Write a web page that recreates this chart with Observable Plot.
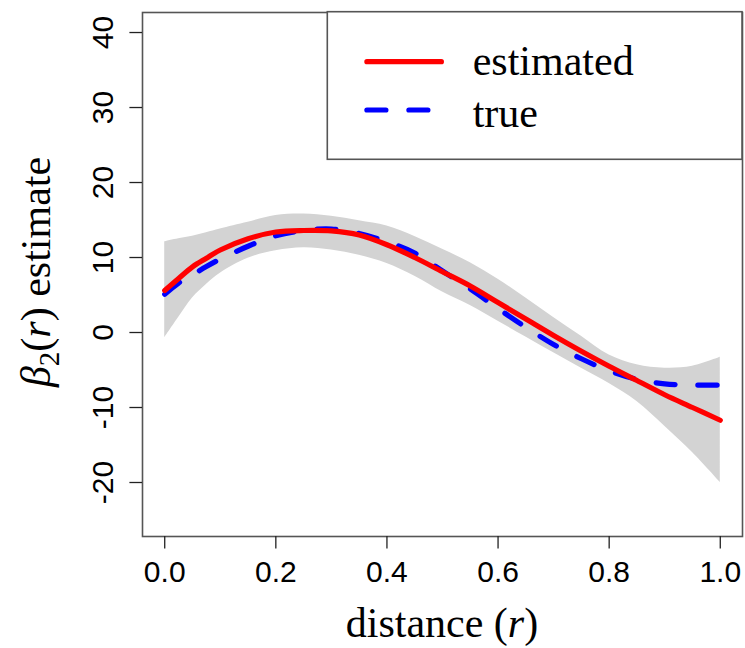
<!DOCTYPE html>
<html>
<head>
<meta charset="utf-8">
<script src="https://cdn.jsdelivr.net/npm/d3@7"></script>
<script src="https://cdn.jsdelivr.net/npm/@observablehq/plot@0.6"></script>
<style>
  html, body { margin: 0; padding: 0; background: #fff; }
  #chart svg { display: block; }
</style>
</head>
<body>
<div id="chart"></div>
<script>
// distance grid (r)
const r = [0, 0.025, 0.05, 0.075, 0.1, 0.15, 0.2, 0.25, 0.3, 0.35, 0.4, 0.45, 0.5,
           0.55, 0.6, 0.65, 0.7, 0.75, 0.8, 0.85, 0.9, 0.95, 1.0];
// estimated beta_2(r)
const estimated = [5.6, 7.2, 8.75, 9.9, 11.0, 12.5, 13.4, 13.6, 13.55, 13.0, 11.7, 10.0, 8.1,
                   6.2, 4.0, 1.8, -0.4, -2.5, -4.5, -6.4, -8.3, -10.0, -11.7];
// true beta_2(r)
const truth = [5.1, 6.6, 7.7, 8.8, 9.8, 11.5, 12.9, 13.6, 13.8, 13.2, 12.1, 10.6, 8.2,
               5.8, 3.2, 0.7, -1.6, -3.5, -5.1, -6.25, -6.85, -7.0, -7.0];
// pointwise band
const upper = [12.1, 12.5, 12.85, 13.3, 13.8, 14.7, 15.6, 15.8, 15.5, 14.9, 14.2, 12.8, 11.1,
               9.3, 7.1, 4.6, 2.0, -0.5, -3.0, -4.3, -4.75, -4.5, -3.3];
const lower = [-0.7, 2.0, 4.6, 6.4, 7.9, 9.9, 10.9, 11.3, 11.0, 10.3, 9.2, 7.5, 5.4,
               3.6, 1.5, -0.6, -2.7, -4.75, -6.8, -9.2, -12.5, -16.0, -20.0];

const xTicks = [0, 0.2, 0.4, 0.6, 0.8, 1.0];
const yTicks = [-20, -10, 0, 10, 20, 30, 40];
const seriesNames = ["estimated", "true"];

const rows = r.map((d, i) => ({r: d, est: estimated[i], tru: truth[i], lo: lower[i], hi: upper[i]}));

const sans = "'Liberation Sans', Arial, Helvetica, sans-serif";
const serif = "'Liberation Serif', 'Times New Roman', Times, serif";

const plot = Plot.plot({
  width: 745,
  height: 648,
  marginLeft: 142,
  marginRight: 3,
  marginTop: 12,
  marginBottom: 112,
  style: {background: "#fff"},
  x: {domain: [-0.04, 1.04]},
  y: {domain: [-27.2, 42.67]},
  marks: [
    Plot.areaY(rows, {x: "r", y1: "lo", y2: "hi", fill: "#d3d3d3", curve: "catmull-rom"}),
    Plot.line(rows, {x: "r", y: "tru", stroke: "#0000ff", strokeWidth: 5.2, curve: "catmull-rom",
      strokeDasharray: "19,23", strokeLinecap: "round", strokeLinejoin: "round"}),
    Plot.line(rows, {x: "r", y: "est", stroke: "#ff0000", strokeWidth: 5.2, curve: "catmull-rom",
      strokeLinecap: "round", strokeLinejoin: "round"}),
    Plot.frame({stroke: "#555", strokeWidth: 1.6}),
    Plot.axisX({ticks: xTicks, tickFormat: d => d.toFixed(1), tickSize: 12.6, tickPadding: 12,
      fontSize: 30, fontFamily: sans, label: null, stroke: "#222", strokeWidth: 1.3, fill: "#000"}),
    Plot.axisY({ticks: yTicks, tickFormat: d => String(d), tickSize: 12.6, tickPadding: 17.4,
      tickRotate: -90, fontSize: 30, fontFamily: sans, label: null, stroke: "#222", strokeWidth: 1.3, fill: "#000"})
  ]
});

document.getElementById("chart").appendChild(plot);

const svg = d3.select(plot);
// x axis title
const xt = svg.append("text")
  .attr("x", 442).attr("y", 636.7)
  .attr("text-anchor", "middle")
  .style("font-family", serif).style("font-size", "42px").attr("fill", "#000");
xt.append("tspan").text("distance (");
xt.append("tspan").style("font-style", "italic").text("r");
xt.append("tspan").text(")");

// y axis title
const yt = svg.append("text")
  .attr("transform", "translate(50,272) rotate(-90)")
  .attr("text-anchor", "middle")
  .style("font-family", serif).style("font-size", "42px").attr("fill", "#000");
yt.append("tspan").style("font-style", "italic").text("β");
yt.append("tspan").attr("dy", 9).style("font-size", "29px").text("2");
yt.append("tspan").attr("dy", -9).text("(");
yt.append("tspan").style("font-style", "italic").text("r");
yt.append("tspan").text(") estimate");

// legend
const lg = svg.append("g");
lg.append("rect").attr("x", 327.3).attr("y", 11.7).attr("width", 742 - 327.3).attr("height", 159.3 - 11.7)
  .attr("fill", "#fff").attr("stroke", "#555").attr("stroke-width", 1.6);
const legendItems = [
  {name: seriesNames[0], color: "#ff0000", dash: null, y: 61.7, base: 75},
  {name: seriesNames[1], color: "#0000ff", dash: "19,23", y: 110, base: 126.7}
];
legendItems.forEach(it => {
  const ln = lg.append("line").attr("x1", 364.3 + 2.6).attr("x2", 444 - 2.6).attr("y1", it.y).attr("y2", it.y)
    .attr("stroke", it.color).attr("stroke-width", 5.2).attr("stroke-linecap", "round");
  if (it.dash) ln.attr("stroke-dasharray", it.dash);
  lg.append("text").attr("x", 472.7).attr("y", it.base).attr("text-anchor", "start")
    .style("font-family", serif).style("font-size", "42px").attr("fill", "#000").text(it.name);
});
</script>
</body>
</html>
